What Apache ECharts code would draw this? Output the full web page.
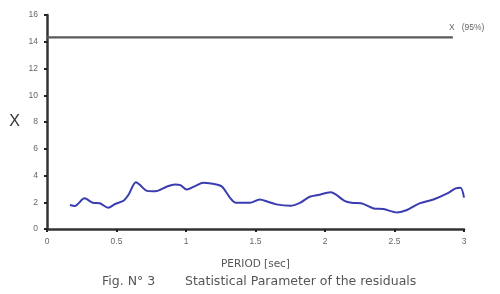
<!DOCTYPE html>
<html><head><meta charset="utf-8">
<script src="https://cdn.jsdelivr.net/npm/echarts@6/dist/echarts.min.js"></script>
<style>html,body{margin:0;padding:0;background:#fff}#c{width:500px;height:294px}</style>
</head><body><div id="c"></div>
<script>
const periods = [0.165,0.20,0.27,0.33,0.38,0.44,0.49,0.55,0.585,0.64,0.67,0.72,0.78,0.86,0.92,0.96,1.005,1.065,1.125,1.22,1.26,1.32,1.36,1.46,1.53,1.59,1.65,1.75,1.82,1.89,1.95,2.04,2.14,2.19,2.26,2.35,2.42,2.52,2.59,2.68,2.78,2.88,2.94,2.975,3.0];
const chiValues = [1.79,1.72,2.29,1.96,1.92,1.59,1.87,2.11,2.54,3.5,3.28,2.85,2.82,3.16,3.33,3.28,2.95,3.21,3.46,3.33,3.16,2.29,1.96,1.96,2.21,2.04,1.84,1.74,1.96,2.41,2.54,2.74,2.11,1.96,1.92,1.54,1.49,1.24,1.42,1.92,2.21,2.66,3.04,3.08,2.35];
const limitPeriods = [0, 2.92];
const limitValues = [14.33, 14.33];
const limitLabel = 'X   (95%)';
const yTicks = [0,2,4,6,8,10,12,14,16];
const xTicks = [0,0.5,1,1.5,2,2.5,3];
const yName = 'X';
const xName = 'PERIOD [sec]';
const captionFig = 'Fig. N\u00b0 3';
const captionText = 'Statistical Parameter of the residuals';

const chart = echarts.init(document.getElementById('c'));
const lblFont = {color:'#666', fontSize:8.5, fontFamily:'Liberation Sans'};
chart.setOption({
  animation:false,
  grid:{left:47,right:36,top:15,bottom:65},
  xAxis:{type:'value',min:0,max:3,interval:0.5,
    axisLine:{lineStyle:{color:'#333',width:2.5}},
    axisTick:{show:true,length:3,lineStyle:{color:'#222',width:2}},
    axisLabel:Object.assign({margin:8,formatter:v=>xTicks.includes(v)?String(v):''},lblFont),
    splitLine:{show:false},
    name:xName,nameLocation:'middle',nameGap:30,
    nameTextStyle:{color:'#555',fontSize:10.5,fontFamily:'DejaVu Sans'}},
  yAxis:{type:'value',min:0,max:16,interval:2,
    axisLine:{show:true,lineStyle:{color:'#333',width:2.5}},
    axisTick:{show:true,length:3,lineStyle:{color:'#222',width:2}},
    axisLabel:Object.assign({margin:9,formatter:v=>yTicks.includes(v)?String(v):''},lblFont),
    splitLine:{show:false},
    name:yName,nameLocation:'middle',nameGap:27,nameRotate:0,
    nameTextStyle:{color:'#333',fontSize:16,fontFamily:'Liberation Sans'}},
  graphic:[
    {type:'text',left:102,top:275,style:{text:captionFig,fill:'#555',fontSize:12.5,fontFamily:'DejaVu Sans'}},
    {type:'text',left:185,top:275,style:{text:captionText,fill:'#555',fontSize:12.5,fontFamily:'DejaVu Sans'}}
  ],
  series:[
    {type:'line',data:limitPeriods.map((p,i)=>[p,limitValues[i]]),symbol:'none',
     lineStyle:{color:'#5a5a5a',width:2.2},
     label:{show:false},
     endLabel:{show:true,formatter:limitLabel,color:'#666',fontSize:8.5,fontFamily:'Liberation Sans',offset:[-12,-10]}},
    {type:'line',data:periods.map((p,i)=>[p,chiValues[i]]),symbol:'none',smooth:0.3,
     lineStyle:{color:'#3a3db0',width:2}}
  ]
});
</script></body></html>
